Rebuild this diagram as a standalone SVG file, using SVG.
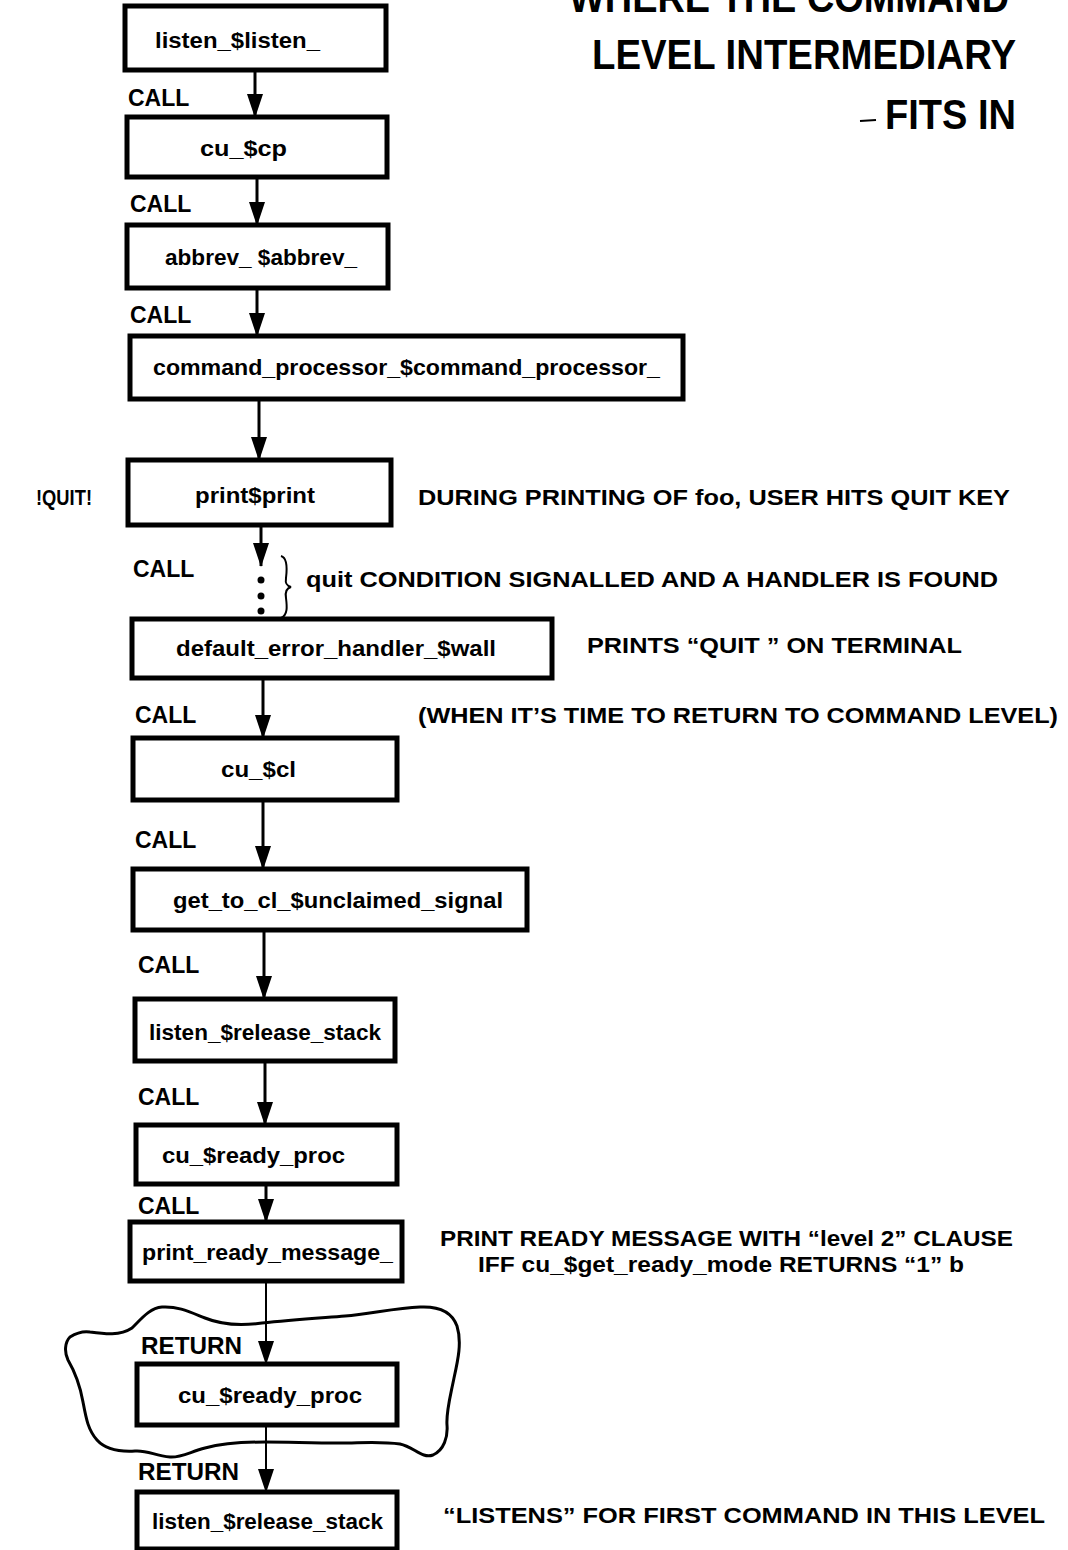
<svg xmlns="http://www.w3.org/2000/svg" width="1068" height="1550" viewBox="0 0 1068 1550">
<defs>
<marker id="ah" viewBox="0 0 24 16" refX="23" refY="8" markerWidth="24" markerHeight="16" markerUnits="userSpaceOnUse" orient="auto">
<path d="M0,0 L24,8 L0,16 z" fill="#000"/>
</marker>
<style>
.box{fill:#fff;stroke:#000;stroke-width:5}
.lbl{font-family:"Liberation Sans",Arial,sans-serif;font-weight:bold;font-size:22px;fill:#000}
.call{font-family:"Liberation Sans",Arial,sans-serif;font-weight:bold;font-size:23px;fill:#000}
.note{font-family:"Liberation Sans",Arial,sans-serif;font-weight:bold;font-size:22px;fill:#000}
.title{font-family:"Liberation Sans",Arial,sans-serif;font-weight:bold;font-size:42px;fill:#000}
.conn{stroke:#000;stroke-width:3;fill:none;marker-end:url(#ah)}
.thin{stroke-width:2}
</style>
</defs>
<rect width="1068" height="1550" fill="#fff"/>

<g id="title">
<text class="title" x="569" y="12" textLength="440" lengthAdjust="spacingAndGlyphs">WHERE THE COMMAND</text>
<text class="title" x="592" y="69" textLength="424" lengthAdjust="spacingAndGlyphs">LEVEL INTERMEDIARY</text>
<line x1="860" y1="121" x2="876" y2="120" stroke="#000" stroke-width="2"/>
<text class="title" x="885" y="129" textLength="131" lengthAdjust="spacingAndGlyphs">FITS IN</text>
</g>

<g id="connectors">
<line class="conn" x1="255" y1="72" x2="255" y2="117"/>
<line class="conn" x1="257" y1="177" x2="257" y2="225"/>
<line class="conn" x1="257" y1="288" x2="257" y2="336"/>
<line class="conn" x1="259" y1="399" x2="259" y2="460"/>
<line class="conn" x1="261" y1="525" x2="261" y2="566"/>
<line class="conn" x1="263" y1="678" x2="263" y2="738"/>
<line class="conn" x1="263" y1="800" x2="263" y2="869"/>
<line class="conn" x1="264" y1="930" x2="264" y2="999"/>
<line class="conn" x1="265" y1="1061" x2="265" y2="1125"/>
<line class="conn" x1="266" y1="1184" x2="266" y2="1222"/>
<line class="conn thin" x1="266" y1="1281" x2="266" y2="1364"/>
<line class="conn thin" x1="266" y1="1425" x2="266" y2="1492"/>
<circle cx="261" cy="580" r="3.5" fill="#000"/>
<circle cx="261" cy="596" r="3.5" fill="#000"/>
<circle cx="261" cy="611" r="3.5" fill="#000"/>
<path d="M281,556 C288,558 287,570 286,578 C285,584 287,586 291,587 C287,588 285,592 286,598 C287,606 288,615 281,618" stroke="#000" stroke-width="2" fill="none"/>
</g>

<g id="cloud">
<path d="M70,1337 C78,1332 84,1331 90,1332 C105,1334 120,1336 132,1328 C142,1318 150,1308 162,1307 C178,1306 190,1312 205,1318 C222,1325 240,1326 262,1323 C290,1320 320,1318 345,1316 C370,1314 395,1308 420,1307 C440,1306 452,1312 457,1326 C462,1342 458,1360 454,1378 C450,1398 446,1412 447,1425 C448,1437 444,1450 433,1455 C422,1459 414,1447 400,1444 C380,1441 360,1443 340,1443 C310,1443 290,1442 265,1442 C240,1442 220,1444 205,1448 C190,1452 180,1458 170,1457 C155,1456 148,1450 135,1451 C118,1452 105,1449 97,1440 C88,1430 86,1418 83,1402 C80,1385 75,1372 68,1360 C64,1352 65,1342 70,1337 Z" fill="none" stroke="#000" stroke-width="3"/>
</g>

<g id="n1"><rect class="box" x="125" y="6" width="261" height="64"/><text class="lbl" x="155" y="48" textLength="165" lengthAdjust="spacingAndGlyphs">listen_$listen_</text></g>
<g id="n2"><rect class="box" x="127" y="117" width="260" height="60"/><text class="lbl" x="200" y="156" textLength="87" lengthAdjust="spacingAndGlyphs">cu_$cp</text></g>
<g id="n3"><rect class="box" x="127" y="225" width="261" height="63"/><text class="lbl" x="165" y="265" textLength="192" lengthAdjust="spacingAndGlyphs">abbrev_ $abbrev_</text></g>
<g id="n4"><rect class="box" x="130" y="336" width="553" height="63"/><text class="lbl" x="153" y="375" textLength="507" lengthAdjust="spacingAndGlyphs">command_processor_$command_processor_</text></g>
<g id="n5"><rect class="box" x="128" y="460" width="263" height="65"/><text class="lbl" x="195" y="503" textLength="120" lengthAdjust="spacingAndGlyphs">print$print</text></g>
<g id="n6"><rect class="box" x="132" y="619" width="420" height="59"/><text class="lbl" x="176" y="656" textLength="320" lengthAdjust="spacingAndGlyphs">default_error_handler_$wall</text></g>
<g id="n7"><rect class="box" x="133" y="738" width="264" height="62"/><text class="lbl" x="221" y="777" textLength="75" lengthAdjust="spacingAndGlyphs">cu_$cl</text></g>
<g id="n8"><rect class="box" x="133" y="869" width="394" height="61"/><text class="lbl" x="173" y="908" textLength="330" lengthAdjust="spacingAndGlyphs">get_to_cl_$unclaimed_signal</text></g>
<g id="n9"><rect class="box" x="135" y="999" width="260" height="62"/><text class="lbl" x="149" y="1040" textLength="232" lengthAdjust="spacingAndGlyphs">listen_$release_stack</text></g>
<g id="n10"><rect class="box" x="136" y="1125" width="261" height="59"/><text class="lbl" x="162" y="1163" textLength="183" lengthAdjust="spacingAndGlyphs">cu_$ready_proc</text></g>
<g id="n11"><rect class="box" x="130" y="1222" width="272" height="59"/><text class="lbl" x="142" y="1260" textLength="251" lengthAdjust="spacingAndGlyphs">print_ready_message_</text></g>
<g id="n12"><rect class="box" x="137" y="1364" width="260" height="61"/><text class="lbl" x="178" y="1403" textLength="184" lengthAdjust="spacingAndGlyphs">cu_$ready_proc</text></g>
<g id="n13"><rect class="box" x="137" y="1492" width="260" height="57"/><text class="lbl" x="152" y="1529" textLength="231" lengthAdjust="spacingAndGlyphs">listen_$release_stack</text></g>

<g id="edge-labels">
<text class="call" x="128" y="106">CALL</text>
<text class="call" x="130" y="212">CALL</text>
<text class="call" x="130" y="323">CALL</text>
<text class="call" x="133" y="577">CALL</text>
<text class="call" x="135" y="723">CALL</text>
<text class="call" x="135" y="848">CALL</text>
<text class="call" x="138" y="973">CALL</text>
<text class="call" x="138" y="1105">CALL</text>
<text class="call" x="138" y="1214">CALL</text>
<text class="call" x="141" y="1354" textLength="101" lengthAdjust="spacingAndGlyphs">RETURN</text>
<text class="call" x="138" y="1480" textLength="101" lengthAdjust="spacingAndGlyphs">RETURN</text>
</g>

<g id="notes">
<text class="note" x="36" y="505" textLength="56" lengthAdjust="spacingAndGlyphs">!QUIT!</text>
<text class="note" x="418" y="505" textLength="592" lengthAdjust="spacingAndGlyphs">DURING PRINTING OF foo,  USER HITS QUIT KEY</text>
<text class="note" x="306" y="587" textLength="692" lengthAdjust="spacingAndGlyphs">quit CONDITION SIGNALLED  AND A HANDLER IS FOUND</text>
<text class="note" x="587" y="653" textLength="375" lengthAdjust="spacingAndGlyphs">PRINTS “QUIT ” ON TERMINAL</text>
<text class="note" x="418" y="723" textLength="640" lengthAdjust="spacingAndGlyphs">(WHEN IT’S TIME TO RETURN TO COMMAND LEVEL)</text>
<text class="note" x="440" y="1246" textLength="573" lengthAdjust="spacingAndGlyphs">PRINT READY MESSAGE WITH “level 2” CLAUSE</text>
<text class="note" x="478" y="1272" textLength="486" lengthAdjust="spacingAndGlyphs">IFF cu_$get_ready_mode RETURNS  “1” b</text>
<text class="note" x="443" y="1523" textLength="602" lengthAdjust="spacingAndGlyphs">“LISTENS” FOR FIRST COMMAND IN  THIS LEVEL</text>
</g>
</svg>
